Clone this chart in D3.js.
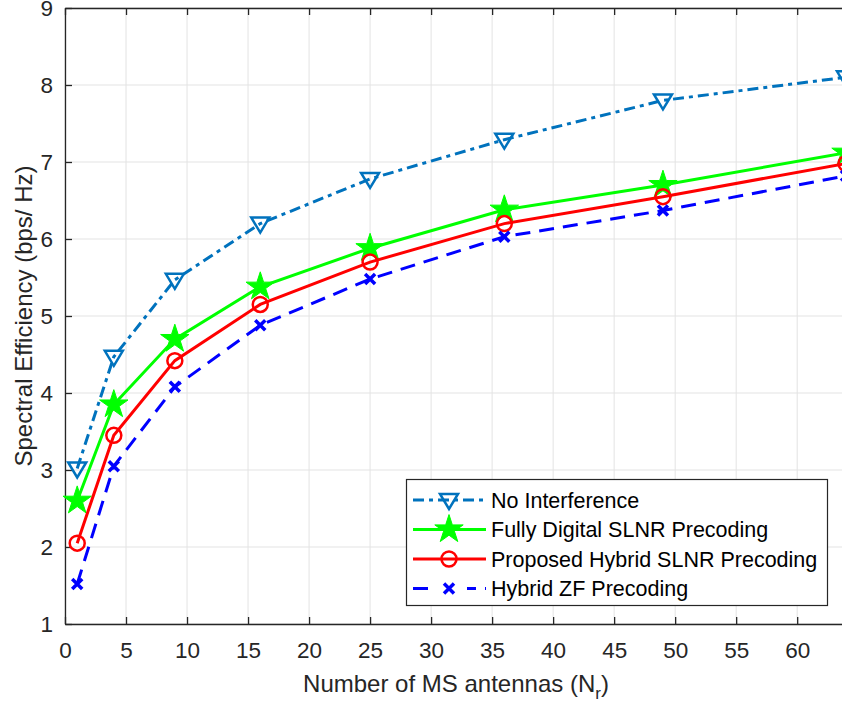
<!DOCTYPE html>
<html><head><meta charset="utf-8">
<script src="https://cdn.jsdelivr.net/npm/d3@7"></script>
<style>body{margin:0;background:#fff}svg{display:block;font-family:"Liberation Sans",Arial,sans-serif}</style>
</head><body><svg id="c" width="842" height="704"></svg>
<script>
const xValues = [1, 4, 9, 16, 25, 36, 49, 64];
const noInterference = [3.02, 4.47, 5.47, 6.2, 6.78, 7.29, 7.8, 8.1];
const fullyDigital = [2.6, 3.85, 4.7, 5.38, 5.88, 6.38, 6.7, 7.12];
const proposedHybrid = [2.05, 3.45, 4.42, 5.15, 5.7, 6.2, 6.55, 6.98];
const hybridZF = [1.52, 3.05, 4.08, 4.88, 5.48, 6.03, 6.37, 6.82];
const xTicks = [0, 5, 10, 15, 20, 25, 30, 35, 40, 45, 50, 55, 60];
const yTicks = [1, 2, 3, 4, 5, 6, 7, 8, 9];
const seriesNames = ["No Interference", "Fully Digital SLNR Precoding", "Proposed Hybrid SLNR Precoding", "Hybrid ZF Precoding"];

const series = [
  {name: seriesNames[0], values: noInterference, color: "#0072BD", dash: "11,5,4,5", marker: "tri"},
  {name: seriesNames[1], values: fullyDigital, color: "#00FF00", dash: null, marker: "star"},
  {name: seriesNames[2], values: proposedHybrid, color: "#FF0000", dash: null, marker: "circle"},
  {name: seriesNames[3], values: hybridZF, color: "#0000FF", dash: "15,9", marker: "x"}
];

const svg = d3.select("#c");
const L = 65, R = 846, T = 8, B = 624;
const x = d3.scaleLinear().domain([0, 64]).range([L, R]);
const y = d3.scaleLinear().domain([1, 9]).range([B, T]);
const axisColor = "#262626";

// grid
const g = svg.append("g");
g.selectAll(".gx").data(xTicks).enter().append("line")
  .attr("x1", d => x(d)).attr("x2", d => x(d)).attr("y1", T).attr("y2", B)
  .attr("stroke", "#e3e3e3").attr("stroke-width", 1);
g.selectAll(".gy").data(yTicks).enter().append("line")
  .attr("x1", L).attr("x2", R).attr("y1", d => y(d)).attr("y2", d => y(d))
  .attr("stroke", "#e3e3e3").attr("stroke-width", 1);

// axes
const xAxis = d3.axisBottom(x).tickValues(xTicks).tickSizeInner(-7).tickSizeOuter(0).tickPadding(18);
const yAxis = d3.axisLeft(y).tickValues(yTicks).tickSizeInner(-7).tickSizeOuter(0).tickPadding(12);
const xTop = d3.axisTop(x).tickValues(xTicks).tickSizeInner(-7).tickSizeOuter(0).tickFormat("");

function style(sel){
  sel.selectAll("path").attr("stroke", axisColor).attr("stroke-width", 1.3);
  sel.selectAll("line").attr("stroke", axisColor).attr("stroke-width", 1.3);
  sel.selectAll("text").attr("fill", axisColor).style("font-size", "22.5px").style("font-family", "Liberation Sans, Arial, sans-serif");
}
svg.append("g").attr("transform", `translate(0,${B})`).call(xAxis).call(style);
svg.append("g").attr("transform", `translate(${L},0)`).call(yAxis).call(style);
svg.append("g").attr("transform", `translate(0,${T})`).call(xTop).call(style);

// labels
svg.append("text").attr("x", 456).attr("y", 692).attr("text-anchor", "middle")
  .attr("fill", axisColor).style("font-size", "24px")
  .html('Number of MS antennas (N<tspan dy="7" font-size="17px">r</tspan><tspan dy="-7">)</tspan>');
svg.append("text").attr("transform", `translate(32,316) rotate(-90)`).attr("text-anchor", "middle")
  .attr("fill", axisColor).style("font-size", "24px").text("Spectral Efficiency (bps/ Hz)");

// markers
function drawMarker(sel, type, color){
  if (type === "tri") {
    sel.append("path").attr("d", "M-9,-6 L9,-6 L0,9 Z").attr("fill", "none").attr("stroke", color).attr("stroke-width", 2.5);
  } else if (type === "star") {
    sel.append("path").attr("d", d3.symbol(d3.symbolStar, 250)()).attr("fill", color).attr("stroke", color).attr("stroke-width", 1);
  } else if (type === "circle") {
    sel.append("circle").attr("r", 7.5).attr("fill", "none").attr("stroke", color).attr("stroke-width", 2.5);
  } else if (type === "x") {
    sel.append("path").attr("d", "M-5,-5 L5,5 M-5,5 L5,-5").attr("fill", "none").attr("stroke", color).attr("stroke-width", 3.5);
  }
}

const line = d3.line().x(d => x(d[0])).y(d => y(d[1]));
const plot = svg.append("g");
series.forEach(s => {
  const pts = xValues.map((xv, i) => [xv, s.values[i]]);
  plot.append("path").datum(pts).attr("d", line).attr("fill", "none")
    .attr("stroke", s.color).attr("stroke-width", 3)
    .attr("stroke-dasharray", s.dash);
  pts.forEach(p => {
    const m = plot.append("g").attr("transform", `translate(${x(p[0])},${y(p[1])})`);
    drawMarker(m, s.marker, s.color);
  });
});

// legend
const lg = svg.append("g");
lg.append("rect").attr("x", 406.5).attr("y", 479.5).attr("width", 421).attr("height", 126)
  .attr("fill", "#fff").attr("stroke", axisColor).attr("stroke-width", 1.2);
series.forEach((s, i) => {
  const yy = 500 + i * 29.5;
  lg.append("line").attr("x1", 413).attr("x2", 486).attr("y1", yy).attr("y2", yy)
    .attr("stroke", s.color).attr("stroke-width", 3).attr("stroke-dasharray", s.dash);
  if (s.marker === "x") {
    lg.append("rect").attr("x", 430).attr("y", yy - 6).attr("width", 37).attr("height", 12).attr("fill", "#fff");
  }
  const m = lg.append("g").attr("transform", `translate(449,${yy})`);
  drawMarker(m, s.marker, s.color);
  lg.append("text").attr("x", 491).attr("y", yy + 7.5).attr("fill", "#000")
    .style("font-size", "21.5px").text(s.name);
});
</script></body></html>
